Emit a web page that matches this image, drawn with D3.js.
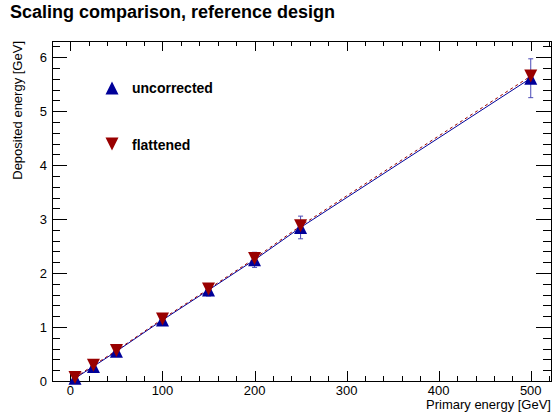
<!DOCTYPE html>
<html><head><meta charset="utf-8">
<script src="https://cdn.jsdelivr.net/npm/d3@7"></script>
<style>body{margin:0;background:#fff}svg{display:block}text{font-family:"Liberation Sans",Arial,sans-serif}</style>
</head><body>
<script>
const energies = [5, 25, 50, 100, 150, 200, 250, 500];
const uncorrected = [0.05, 0.27, 0.55, 1.13, 1.685, 2.245, 2.845, 5.61];
const uncorrectedErr = [0.01, 0.03, 0.05, 0.08, 0.11, 0.14, 0.21, 0.36];
const flattened = [0.065, 0.29, 0.565, 1.15, 1.705, 2.27, 2.875, 5.65];
const xTicks = [0, 100, 200, 300, 400, 500];
const yTicks = [0, 1, 2, 3, 4, 5, 6];
const seriesNames = ["uncorrected", "flattened"];
const blue = "#000099", red = "#990000";

const W = 552, H = 419;
const L = 52, R = 551, T = 41, B = 381;
const svg = d3.select("body").append("svg").attr("width", W).attr("height", H);
svg.append("rect").attr("width", W).attr("height", H).attr("fill", "#fff");

const x = d3.scaleLinear().domain([-20, 522]).range([L, R]);
const y = d3.scaleLinear().domain([0, 6.3]).range([B, T]);

svg.append("text").attr("x", 10).attr("y", 18).attr("font-size", 18).attr("font-weight", "bold").text("Scaling comparison, reference design");

// ticks
const xMinor = d3.range(-20, 521, 20);
const yMinor = d3.range(0, 6.3, 0.2);
const g = svg.append("g").attr("stroke", "#000").attr("stroke-width", 1).attr("shape-rendering", "crispEdges");
xMinor.forEach(v => {
  const major = Math.abs(v % 100) < 1e-6;
  const len = major ? 10 : 5;
  const px = Math.round(x(v)) + 0.5;
  if (px <= L || px >= R) return;
  g.append("line").attr("x1", px).attr("x2", px).attr("y1", B).attr("y2", B - len);
  g.append("line").attr("x1", px).attr("x2", px).attr("y1", T).attr("y2", T + len);
});
yMinor.forEach(v => {
  const major = Math.abs(v - Math.round(v)) < 1e-6;
  const len = major ? 15 : 8;
  const py = Math.round(y(v)) + 0.5;
  if (py <= T || py >= B) return;
  g.append("line").attr("x1", L).attr("x2", L + len).attr("y1", py).attr("y2", py);
  g.append("line").attr("x1", R).attr("x2", R - len).attr("y1", py).attr("y2", py);
});
g.append("rect").attr("x", L + 0.5).attr("y", T + 0.5).attr("width", R - L).attr("height", B - T).attr("fill", "none");

svg.selectAll(".xl").data(xTicks).enter().append("text")
  .attr("x", d => x(d)).attr("y", 395).attr("text-anchor", "middle").attr("font-size", 13).text(d => d);
svg.selectAll(".yl").data(yTicks).enter().append("text")
  .attr("x", 47).attr("y", d => y(d)).attr("dy", "0.36em").attr("text-anchor", "end").attr("font-size", 13).text(d => d);

svg.append("text").attr("x", R).attr("y", 409).attr("text-anchor", "end").attr("font-size", 13).text("Primary energy [GeV]");
svg.append("text").attr("transform", `translate(22,${T}) rotate(-90)`).attr("text-anchor", "end").attr("font-size", 13).text("Deposited energy [GeV]");

// error bars (uncorrected)
const eb = svg.append("g").attr("stroke", blue).attr("stroke-width", 1).attr("opacity", 0.7);
energies.forEach((e, i) => {
  const px = x(e), y1 = y(uncorrected[i] + uncorrectedErr[i]), y2 = y(uncorrected[i] - uncorrectedErr[i]);
  eb.append("line").attr("x1", px).attr("x2", px).attr("y1", y1).attr("y2", y2);
  eb.append("line").attr("x1", px - 2.5).attr("x2", px + 2.5).attr("y1", y1).attr("y2", y1);
  eb.append("line").attr("x1", px - 2.5).attr("x2", px + 2.5).attr("y1", y2).attr("y2", y2);
});

const line = d3.line().x(d => x(d[0])).y(d => y(d[1]));
svg.append("path").datum(energies.map((e, i) => [e, uncorrected[i]])).attr("d", line)
  .attr("fill", "none").attr("stroke", blue).attr("stroke-width", 1);
svg.append("path").datum(energies.map((e, i) => [e, flattened[i]])).attr("d", line)
  .attr("fill", "none").attr("stroke", red).attr("stroke-width", 1).attr("stroke-dasharray", "3,3");

function triUp(cx, cy, s) { const h = s; return `M${cx},${cy - h/2}L${cx + s/2},${cy + h/2}L${cx - s/2},${cy + h/2}Z`; }
function triDown(cx, cy, s) { const h = s; return `M${cx},${cy + h/2}L${cx + s/2},${cy - h/2}L${cx - s/2},${cy - h/2}Z`; }

svg.append("g").selectAll("path").data(energies).enter().append("path")
  .attr("d", (e, i) => triUp(x(e), y(uncorrected[i]), 13)).attr("fill", blue);
svg.append("g").selectAll("path").data(energies).enter().append("path")
  .attr("d", (e, i) => triDown(x(e), y(flattened[i]), 13)).attr("fill", red);

// legend
svg.append("path").attr("d", triUp(112, 88, 13)).attr("fill", blue);
svg.append("path").attr("d", triDown(112, 144, 13)).attr("fill", red);
svg.append("text").attr("x", 132).attr("y", 93).attr("font-size", 14).attr("font-weight", "bold").text(seriesNames[0]);
svg.append("text").attr("x", 132).attr("y", 150).attr("font-size", 14).attr("font-weight", "bold").text(seriesNames[1]);
</script>
</body></html>
